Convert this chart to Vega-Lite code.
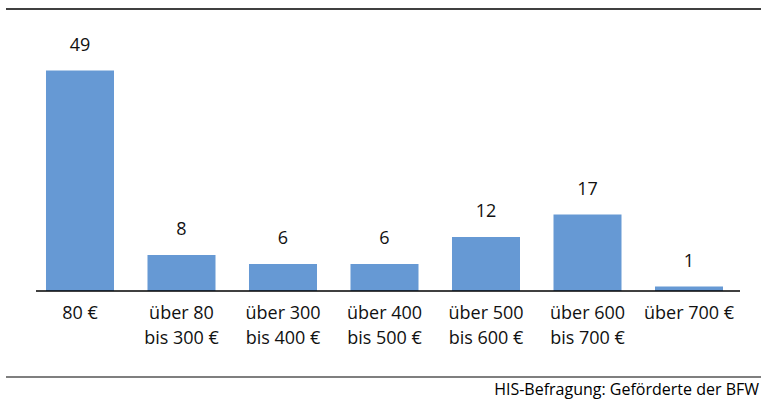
{
  "$schema": "https://vega.github.io/schema/vega-lite/v6.json",
  "width": 755,
  "height": 368,
  "autosize": {"type": "none"},
  "padding": {"left": 6, "top": 9, "right": 0, "bottom": 24},
  "background": "white",
  "config": {"view": {"stroke": null}, "font": "Open Sans"},
  "title": {
    "text": "HIS-Befragung: Geförderte der BFW",
    "orient": "bottom",
    "anchor": "end",
    "frame": "group",
    "fontSize": 16,
    "fontWeight": "normal",
    "font": "Open Sans",
    "color": "#000000",
    "offset": 4,
    "dx": -2
  },
  "data": {
    "values": [
      {"cat": "80 €", "value": 49},
      {"cat": "über 80\nbis 300 €", "value": 8},
      {"cat": "über 300\nbis 400 €", "value": 6},
      {"cat": "über 400\nbis 500 €", "value": 6},
      {"cat": "über 500\nbis 600 €", "value": 12},
      {"cat": "über 600\nbis 700 €", "value": 17},
      {"cat": "über 700 €", "value": 1}
    ]
  },
  "layer": [
    {
      "mark": {"type": "bar", "color": "#6699D4"},
      "encoding": {
        "x": {"field": "cat", "type": "nominal", "sort": null, "axis": null,
              "scale": {"paddingInner": 0.33, "paddingOuter": 0.3842, "align": 0.5128}},
        "y": {"field": "value", "type": "quantitative", "axis": null,
              "scale": {"domain": [-19.111, 62.667], "nice": false, "zero": false}},
        "y2": {"datum": 0}
      }
    },
    {
      "mark": {"type": "text", "dy": -20, "baseline": "alphabetic", "fontSize": 18, "color": "#111111"},
      "encoding": {
        "x": {"field": "cat", "type": "nominal", "sort": null},
        "y": {"field": "value", "type": "quantitative"},
        "text": {"field": "value", "type": "quantitative", "format": ".0f"}
      }
    },
    {
      "mark": {"type": "text", "baseline": "alphabetic", "lineBreak": "\n", "lineHeight": 25, "fontSize": 18, "color": "#111111"},
      "encoding": {
        "x": {"field": "cat", "type": "nominal", "sort": null},
        "y": {"datum": -6.3},
        "text": {"field": "cat", "type": "nominal"}
      }
    },
    {
      "data": {"values": [{"line": "baseline"}]},
      "mark": {"type": "rule", "color": "#000000", "strokeWidth": 1.5},
      "encoding": {
        "x": {"datum": "80 €", "bandPosition": -0.147},
        "x2": {"datum": "über 700 €", "bandPosition": 1.25},
        "y": {"datum": 0}
      }
    },
    {
      "data": {"values": [{"line": "top"}]},
      "mark": {"type": "rule", "color": "#404040", "strokeWidth": 2},
      "encoding": {"y": {"datum": 62.667}}
    },
    {
      "data": {"values": [{"line": "bottom"}]},
      "mark": {"type": "rule", "color": "#000000", "strokeWidth": 1.2},
      "encoding": {"y": {"datum": -19.111}}
    }
  ]
}
